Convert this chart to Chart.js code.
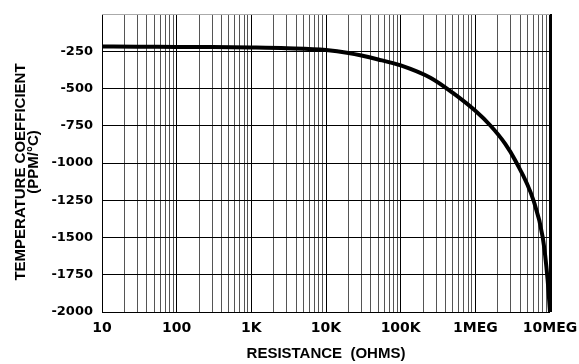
<!DOCTYPE html>
<html>
<head>
<meta charset="utf-8">
<script src="https://cdn.jsdelivr.net/npm/chart.js@4/dist/chart.umd.min.js"></script>
<style>
  body { margin: 0; background: #fff; }
  #wrap { width: 579px; height: 364px; }
</style>
</head>
<body>
<div id="wrap"><canvas id="tcChart"></canvas></div>
<script>
    // resistance (ohms) vs temp coefficient (ppm/C)
    const resistance = [10, 30, 100, 300, 1000, 3000, 10000, 20000, 50000, 100000, 250000, 500000,
        1000000, 1600000, 2500000, 3400000, 6000000, 8000000, 9300000, 10000000]
    const tempCoef = [-218, -219, -221, -222, -225, -230, -242, -262, -305, -345, -428, -530,
        -650, -750, -870, -980, -1250, -1500, -1785, -2000]

    const xTickLabels = { 10: '10', 100: '100', 1000: '1K', 10000: '10K', 100000: '100K', 1000000: '1MEG', 10000000: '10MEG' }
    const yTicks = [0, -250, -500, -750, -1000, -1250, -1500, -1750, -2000]
    const yTitleLines = ['TEMPERATURE COEFFICIENT', '(PPM/\u00B0C)']

    const tickFont = { family: 'DejaVu Sans', weight: 'bold', size: 14 }

    const pts = resistance.map((r, i) => ({ x: r, y: tempCoef[i] }))

    const isDecade = (v) => xTickLabels[v] != undefined

    // y axis title is two lines, not centred on each other in the original
    const yTitlePlugin = {
        id: 'yTitle',
        afterDraw: (chart) => {
            const ctx = chart.ctx
            const put = (txt, x, y) => {
                ctx.save()
                ctx.fillStyle = '#000'
                ctx.font = 'bold 15px "Liberation Sans"'
                ctx.textAlign = 'center'
                ctx.textBaseline = 'middle'
                ctx.translate(x, y)
                ctx.rotate(-Math.PI / 2)
                ctx.fillText(txt, 0, 0)
                ctx.restore()
            }
            put(yTitleLines[0], 21, 172)
            put(yTitleLines[1], 34, 162)
        }
    }

    new Chart('tcChart', {
        type: 'line',
        data: {
            datasets: [{
                data: pts,
                borderColor: '#000',
                borderWidth: 4,
                pointRadius: 0,
                cubicInterpolationMode: 'monotone',
                fill: false
            }]
        },
        options: {
            responsive: true,
            maintainAspectRatio: false,
            animation: false,
            layout: { padding: { top: 14, right: 29, left: 0, bottom: 0 } },
            plugins: { legend: { display: false }, tooltip: { enabled: false } },
            scales: {
                x: {
                    type: 'logarithmic',
                    min: 10,
                    max: 10000000,
                    afterBuildTicks: (scale) => {
                        const t = []
                        for (let d = 10; d < 10000000; d *= 10) {
                            for (let m = 1; m < 10; m++) t.push({ value: d * m })
                        }
                        t.push({ value: 10000000 })
                        scale.ticks = t
                    },
                    afterFit: (scale) => {
                        scale.height = 52
                        scale.paddingLeft = 0
                        scale.paddingRight = 0
                    },
                    border: { display: false },
                    grid: {
                        drawTicks: false,
                        color: (c) => isDecade(c.tick.value) ? '#000' : '#555',
                        lineWidth: (c) => c.tick.value == 10000000 ? 3 : 1
                    },
                    ticks: {
                        autoSkip: false,
                        maxRotation: 0,
                        padding: 8,
                        color: '#000',
                        font: tickFont,
                        callback: (v) => xTickLabels[v] != undefined ? xTickLabels[v] : ''
                    },
                    title: {
                        display: true,
                        text: 'RESISTANCE  (OHMS)',
                        color: '#000',
                        font: { family: 'Liberation Sans', weight: 'bold', size: 15 },
                        padding: { top: 0, bottom: 1 }
                    }
                },
                y: {
                    min: -2000,
                    max: 0,
                    afterBuildTicks: (scale) => { scale.ticks = yTicks.map(v => ({ value: v })) },
                    afterFit: (scale) => {
                        scale.width = 102
                        scale.paddingTop = 0
                        scale.paddingBottom = 0
                    },
                    border: { display: false },
                    grid: {
                        drawTicks: false,
                        color: (c) => c.tick.value == 0 ? '#aaa' : '#000'
                    },
                    ticks: {
                        padding: 9,
                        color: '#000',
                        font: { family: 'DejaVu Sans', weight: 'bold', size: 13 },
                        callback: (v) => v == 0 ? '' : v
                    }
                }
            }
        },
        plugins: [yTitlePlugin]
    })
</script>
</body>
</html>
